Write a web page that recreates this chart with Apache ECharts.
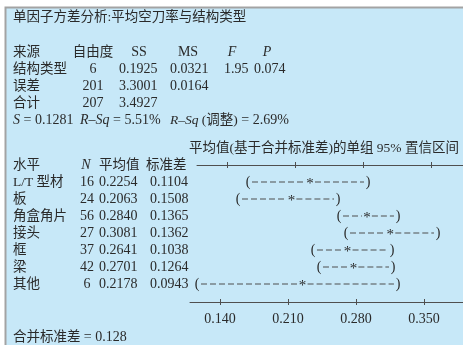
<!DOCTYPE html>
<html>
<head>
<meta charset="utf-8">
<script src="https://cdn.jsdelivr.net/npm/echarts@6/dist/echarts.min.js"></script>
<style>
  html, body { margin: 0; padding: 0; background: #ffffff; }
  #chart { width: 463px; height: 345px; }
</style>
</head>
<body>
<div id="chart"></div>
<script>
// One-way ANOVA: mean idle-cut rate vs. structure type
const titleText = '单因子方差分析:平均空刀率与结构类型';

// ANOVA table
const anovaHeader = ['来源', '自由度', 'SS', 'MS', 'F', 'P'];
const anovaSources = ['结构类型', '误差', '合计'];
const anovaDF = [6, 201, 207];
const anovaSS = [0.1925, 3.3001, 3.4927];
const anovaMS = [0.0321, 0.0164, null];
const fValue = 1.95;
const pValue = 0.074;

// Model summary
const sValue = 0.1281;
const rSq = 5.51;
const rSqAdj = 2.69;

// Per-level summary
const ciTitle = '平均值(基于合并标准差)的单组 95% 置信区间';
const levelHeader = ['水平', 'N', '平均值', '标准差'];
const levels = ['L/T 型材', '板', '角盒角片', '接头', '框', '梁', '其他'];
const levelN = [16, 24, 56, 27, 37, 42, 6];
const levelMean = [0.2254, 0.2063, 0.2840, 0.3081, 0.2641, 0.2701, 0.2178];
const levelStDev = [0.1104, 0.1508, 0.1365, 0.1362, 0.1038, 0.1264, 0.0943];
const ciLower = [0.1616, 0.1513, 0.2553, 0.2625, 0.2285, 0.2347, 0.1091];
const ciUpper = [0.2852, 0.2543, 0.3160, 0.3572, 0.3099, 0.3109, 0.3160];

// Scale ticks
const scaleTicks = [0.140, 0.210, 0.280, 0.350];
const pooledStDev = 0.128;

const FONT = '"Liberation Serif", "Noto Sans CJK SC", serif';
const FS = 13.5;   // text containing Chinese characters
const FN = 14;     // numbers and Latin labels
const INK = '#2a2a2a';
const RULE = '#4f4f4f';

function rich(size) {
  return {
    i: { fontStyle: 'italic', fontFamily: FONT, fontSize: size, fill: INK },
    n: { fontFamily: FONT, fontSize: FN, fill: INK }
  };
}

function txt(x, y, text, align, size) {
  const s = size || FS;
  return {
    type: 'text', x: x, y: y, z: 10,
    style: {
      text: text, fontFamily: FONT, fontSize: s, fill: INK,
      align: align || 'left', verticalAlign: 'middle', rich: rich(s)
    }
  };
}

const graphics = [];
// panel
graphics.push({
  type: 'rect', z: -10, silent: true,
  shape: { x: 5.5, y: 7.5, width: 480, height: 360 },
  style: { fill: '#c7e8f8', stroke: '#a3a3a3', lineWidth: 2 }
});

// title
graphics.push(txt(13, 17, titleText));

// ANOVA header
const rowA = i => 52 + 17 * i;
graphics.push(txt(13, rowA(0), anovaHeader[0]));
graphics.push(txt(93, rowA(0), anovaHeader[1], 'center'));
graphics.push(txt(139, rowA(0), anovaHeader[2], 'center', FN));
graphics.push(txt(188, rowA(0), anovaHeader[3], 'center', FN));
graphics.push(txt(232, rowA(0), '{i|' + anovaHeader[4] + '}', 'center', FN));
graphics.push(txt(267, rowA(0), '{i|' + anovaHeader[5] + '}', 'center', FN));

anovaSources.forEach((src, i) => {
  const y = rowA(i + 1);
  graphics.push(txt(13, y, src));
  graphics.push(txt(93, y, String(anovaDF[i]), 'center', FN));
  graphics.push(txt(119, y, anovaSS[i].toFixed(4), 'left', FN));
  if (anovaMS[i] !== null) graphics.push(txt(170, y, anovaMS[i].toFixed(4), 'left', FN));
  if (i === 0) {
    graphics.push(txt(224, y, fValue.toFixed(2), 'left', FN));
    graphics.push(txt(254, y, pValue.toFixed(3), 'left', FN));
  }
});

// model summary line
graphics.push(txt(13, rowA(4), '{i|S} = ' + sValue.toFixed(4), 'left', FN));
graphics.push(txt(80, rowA(4), '{i|R}–{i|Sq} = ' + rSq.toFixed(2) + '%', 'left', FN));
graphics.push(txt(170, rowA(4), '{i|R}–{i|Sq} (调整) {n|= ' + rSqAdj.toFixed(2) + '%}'));

// CI block
graphics.push(txt(189, 148, ciTitle));
const rowL = i => 182 + 17 * i;
graphics.push(txt(13, 165, levelHeader[0]));
graphics.push(txt(86, 165, '{i|' + levelHeader[1] + '}', 'center', FN));
graphics.push(txt(99, 165, levelHeader[2]));
graphics.push(txt(146, 165, levelHeader[3]));
levels.forEach((name, i) => {
  const y = rowL(i);
  graphics.push(txt(13, y, name));
  graphics.push(txt(87, y, String(levelN[i]), 'center', FN));
  graphics.push(txt(99, y, levelMean[i].toFixed(4), 'left', FN));
  graphics.push(txt(150, y, levelStDev[i].toFixed(4), 'left', FN));
});

// footer
graphics.push(txt(13, 337, '合并标准差 {n|= ' + pooledStDev.toFixed(3) + '}'));

const ruleStyle = { color: RULE, width: 1 };

const option = {
  backgroundColor: 'transparent',
  animation: false,
  graphic: graphics,
  grid: [
    { left: 190, right: 0, top: 301, height: 1 },
    { left: 197, right: 0, top: 165, height: 137 }
  ],
  xAxis: [
    {
      gridIndex: 0, type: 'value', position: 'bottom', min: 0.10912, max: 0.39016,
      axisLine: { onZero: false, lineStyle: ruleStyle },
      axisTick: { customValues: scaleTicks, length: 3, lineStyle: ruleStyle },
      axisLabel: {
        customValues: scaleTicks, margin: 10, formatter: v => v.toFixed(3),
        fontFamily: FONT, fontSize: FN, color: INK
      },
      splitLine: { show: false }
    },
    {
      gridIndex: 0, type: 'value', position: 'bottom', min: 0.10912, max: 0.39016,
      axisLine: { show: false, onZero: false },
      axisTick: { customValues: scaleTicks, inside: true, length: 3, lineStyle: ruleStyle },
      axisLabel: { show: false },
      splitLine: { show: false }
    },
    {
      gridIndex: 1, type: 'value', position: 'top', min: 0.10912, max: 0.38295,
      axisLine: { onZero: false, lineStyle: ruleStyle },
      axisTick: { customValues: scaleTicks, length: 3, lineStyle: ruleStyle },
      axisLabel: { show: false },
      splitLine: { show: false }
    },
    {
      gridIndex: 1, type: 'value', position: 'top', min: 0.10912, max: 0.38295,
      axisLine: { show: false, onZero: false },
      axisTick: { customValues: scaleTicks, inside: true, length: 3, lineStyle: ruleStyle },
      axisLabel: { show: false },
      splitLine: { show: false }
    }
  ],
  yAxis: [
    { gridIndex: 0, type: 'value', min: 0, max: 1, show: false },
    { gridIndex: 1, type: 'value', min: -1, max: 7.0588, inverse: true, show: false }
  ],
  series: [{
    type: 'custom',
    xAxisIndex: 2,
    yAxisIndex: 1,
    clip: false,
    encode: { x: [1, 2, 3], y: 0 },
    data: levels.map((_, i) => [i, ciLower[i], levelMean[i], ciUpper[i]]),
    renderItem: function (params, api) {
      const row = api.value(0);
      const pL = api.coord([api.value(1), row]);
      const pM = api.coord([api.value(2), row]);
      const pH = api.coord([api.value(3), row]);
      const y = pL[1];
      const glyph = (x, yy, t, size) => ({
        type: 'text', x: x, y: yy,
        style: { text: t, fontFamily: FONT, fontSize: size || FN, fill: INK, align: 'center', verticalAlign: 'middle' }
      });
      const dash = (x1, x2) => ({
        type: 'line',
        shape: { x1: x1, y1: y, x2: x2, y2: y },
        style: { stroke: RULE, lineWidth: 1.2, lineDash: [6, 3] }
      });
      return {
        type: 'group',
        children: [
          glyph(pL[0], y, '('),
          dash(pL[0] + 4, pM[0] - 5),
          glyph(pM[0], y + 2, '*', 15),
          dash(pM[0] + 5, pH[0] - 4),
          glyph(pH[0], y, ')')
        ]
      };
    }
  }]
};

const chart = echarts.init(document.getElementById('chart'), null, { renderer: 'canvas' });
chart.setOption(option);
</script>
</body>
</html>
